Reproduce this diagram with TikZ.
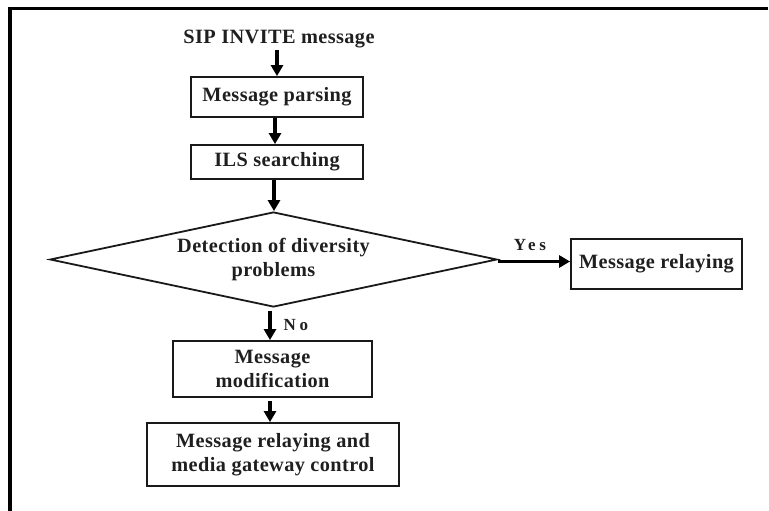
\documentclass[tikz,border=0pt]{standalone}
\usepackage{fontspec}
\setmainfont{Liberation Serif}
\usetikzlibrary{shapes.geometric,arrows.meta}

\newfontfamily\flowfont[LetterSpace=2]{Liberation Serif}
\newfontfamily\labelfont[LetterSpace=22]{Liberation Serif}

\tikzset{
  txt/.style={font=\flowfont\fontsize{20.3}{23.5}\selectfont\bfseries, text=black!88, align=center, inner sep=0pt},
  lbl/.style={font=\labelfont\fontsize{17}{20}\selectfont\bfseries, text=black!88, inner sep=0pt},
  stepbox/.style={txt, draw=black!90, line width=1.8pt, rectangle},
  decision/.style={txt, draw=black!90, line width=1.8pt, diamond, aspect=4.7},
  flow/.style={draw=black, line width=3.2pt, -{Triangle[width=12pt,length=11pt]}},
}

\begin{document}
\begin{tikzpicture}[x=1pt,y=-1pt]
  \useasboundingbox (0,0) rectangle (769,511);

  % open frame: left and top edges only
  \draw[line width=3.6pt] (10,511) -- (10,8.6) -- (768,8.6);

  \node[txt] (sip) at (279,39) {SIP INVITE message};
  \node[stepbox, minimum width=172pt, minimum height=40pt] (parse) at (277,97) {Message parsing};
  \node[stepbox, minimum width=172pt, minimum height=34pt] (ils) at (277,162) {ILS searching};
  \node[decision, minimum width=447pt, minimum height=95pt] (diam) at (273.5,259.5)
       {Detection of diversity\\[1pt] problems};
  \node[stepbox, minimum width=171pt, minimum height=50pt] (relay) at (656.5,264) {Message relaying};
  \node[stepbox, minimum width=199pt, minimum height=56pt] (modif) at (272.5,369)
       {Message\\ modification};
  \node[stepbox, minimum width=252pt, minimum height=63pt] (final) at (273,454.5)
       {Message relaying and\\ media gateway control};

  \coordinate (sipout) at (277,50);
  \draw[flow] (sipout) -- (sipout |- parse.north);
  \draw[flow] (parse.south -| 275,0) -- (ils.north -| 275,0);
  \draw[flow] (ils.south -| 274,0) -- (diam.north -| 274,0);
  \draw[flow] (diam.south -| 270,0) ++(0,3) coordinate (noout) -- (noout |- modif.north);
  \draw[flow] (modif.south -| 270,0) ++(0,3) coordinate (modout) -- (modout |- final.north);
  \draw[flow] (diam.east) ++(0,2) coordinate (yesout) -- (yesout -| relay.west);

  \node[lbl] (yes) at (530,245) {Yes};
  \node[lbl] (no) at (296,325) {No};
\end{tikzpicture}
\end{document}
